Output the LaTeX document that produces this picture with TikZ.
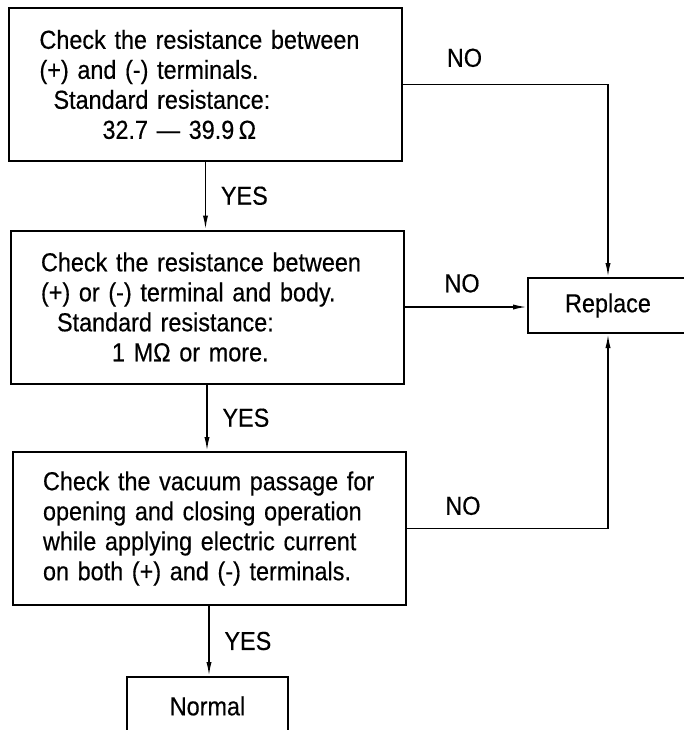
\documentclass[tikz,border=0pt]{standalone}
\usepackage{fontspec}
\setmainfont{Liberation Sans}[FakeStretch=0.9, FakeBold=0.4]
\usetikzlibrary{positioning, arrows.meta}

\begin{document}
\begin{tikzpicture}[
    x=0.5pt, y=-0.5pt,
    line width=0.8pt,
    font=\fontsize{13}{15}\selectfont,
    check/.style={rectangle, draw, line width=1pt, minimum width=196.5pt, minimum height=76.5pt, text width=166pt, align=left, inner sep=0pt},
    result/.style={rectangle, draw, line width=1pt, inner sep=0pt},
    flow/.style={-{Latex[length=7pt,width=2.6pt]}}
]
    \clip (0,0) rectangle (684,730);

    % Checks
    \node[check] (chk1) at (205.5,84.5) {Check the resistance between\\
        (+) and (-) terminals.\\
        \hspace*{7pt}Standard resistance:\\
        \hspace*{31.5pt}32.7 --- 39.9\,Ω};
    \node[check] (chk2) at (207,307) {Check the resistance between\\
        (+) or (-) terminal and body.\\
        \hspace*{8pt}Standard resistance:\\
        \hspace*{35.5pt}1 MΩ or more.};
    \node[check] (chk3) at (209,528.5) {Check the vacuum passage for\\
        opening and closing operation\\
        while applying electric current\\
        on both (+) and (-) terminals.};

    % Results
    \node[result, minimum width=80pt, minimum height=27.5pt] (repl) at (608,305.5) {Replace};
    \node[result, minimum width=80.5pt, minimum height=29pt] (norm) at (207.5,706) {Normal};

    % YES
    \draw[flow] (chk1.south) -- node[right=4pt] {YES} (chk1.south |- chk2.north);
    \draw[flow] (chk2.south) -- node[right=4pt] {YES} (chk2.south |- chk3.north);
    \draw[flow] (chk3.south) -- node[right=4pt] {YES} (chk3.south |- norm.north);

    % NO
    \draw[flow] (chk1.east) -| node[above=5pt, pos=0.15] {NO} (repl.north);
    \draw[flow] (chk2.east) -- node[above=3.5pt, pos=0.47] {NO} (chk2.east -| repl.west);
    \draw[flow] (chk3.east) -| node[above=3pt, pos=0.14] {NO} (repl.south);
\end{tikzpicture}
\end{document}
